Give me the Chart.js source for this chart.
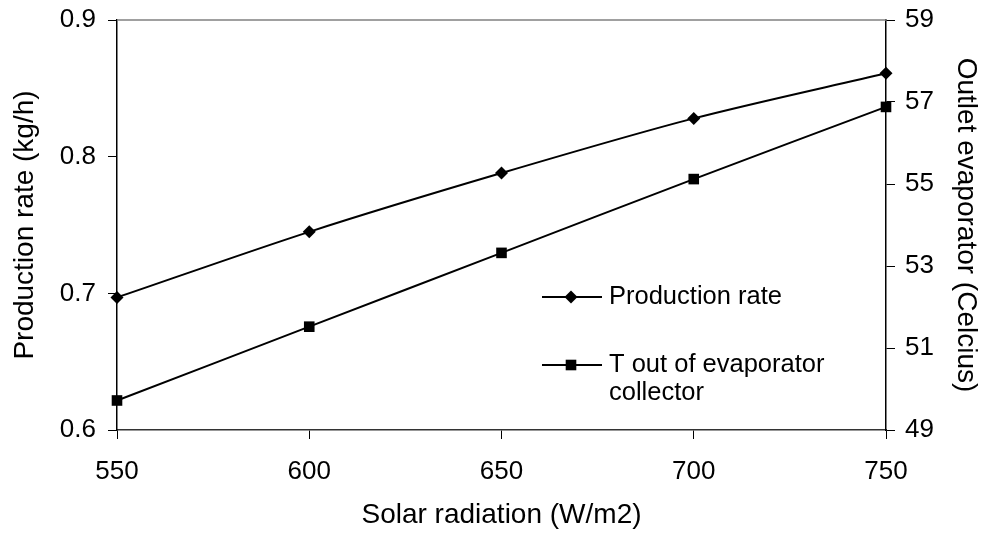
<!DOCTYPE html>
<html>
<head>
<meta charset="utf-8">
<script src="https://cdn.jsdelivr.net/npm/chart.js@4"></script>
<style>
  html, body { margin: 0; padding: 0; background: #fff; }
  #wrap { width: 984px; height: 538px; }
</style>
</head>
<body>
<div id="wrap"><canvas id="chart"></canvas></div>
<script>
var radiation = [550, 600, 650, 700, 750];
var productionRate = [0.697, 0.745, 0.788, 0.828, 0.861];
var tOutEvaporator = [49.72, 51.52, 53.32, 55.12, 56.88];
var legendLabels = ["Production rate", ["T out of evaporator", "collector"]];

var FONT = "Arial, 'Liberation Sans', sans-serif";

function pts(xs, ys) {
  return xs.map(function (x, i) { return { x: x, y: ys[i] }; });
}

// top border of the plot box + the legend inside the plot
var extras = {
  id: "extras",
  afterDraw: function (chart) {
    var c = chart.ctx, a = chart.chartArea;
    c.save();
    c.strokeStyle = "#808080";
    c.lineWidth = 1.5;
    c.beginPath();
    c.moveTo(a.left, a.top);
    c.lineTo(a.right, a.top);
    c.stroke();

    var rows = [297, 365];
    chart.data.datasets.forEach(function (ds, i) {
      var y = rows[i];
      c.strokeStyle = "#000";
      c.lineWidth = 2;
      c.beginPath();
      c.moveTo(542, y);
      c.lineTo(602, y);
      c.stroke();
      c.fillStyle = "#000";
      Chart.helpers.drawPoint(c, { pointStyle: ds.pointStyle, radius: ds.pointRadius, borderWidth: 0 }, 571, y);
      c.font = "25.5px " + FONT;
      c.textBaseline = "middle";
      c.textAlign = "left";
      var lines = [].concat(legendLabels[i]);
      lines.forEach(function (t, k) {
        c.fillText(t, 609, y + k * 28);
      });
    });
    c.restore();
  }
};

var tickFont = { size: 26, family: FONT };
var titleFont = { size: 28, family: FONT };

function fixWidth(w) {
  return function (s) {
    s.width = w;
    s.paddingTop = 0;
    s.paddingBottom = 0;
  };
}

new Chart(document.getElementById("chart"), {
  type: "line",
  data: {
    datasets: [
      {
        label: "Production rate",
        data: pts(radiation, productionRate),
        yAxisID: "y",
        borderColor: "#000",
        backgroundColor: "#000",
        borderWidth: 2,
        pointStyle: "rectRot",
        pointRadius: 6.5,
        pointBorderWidth: 0,
        tension: 0.3,
      },
      {
        label: "T out of evaporator collector",
        data: pts(radiation, tOutEvaporator),
        yAxisID: "y2",
        borderColor: "#000",
        backgroundColor: "#000",
        borderWidth: 2,
        pointStyle: "rect",
        pointRadius: 7.5,
        pointBorderWidth: 0,
        tension: 0.3,
      },
    ],
  },
  options: {
    responsive: true,
    maintainAspectRatio: false,
    animation: false,
    clip: false,
    layout: { padding: { top: 20, left: 0, right: 0, bottom: 0 } },
    plugins: { legend: { display: false }, tooltip: { enabled: false } },
    scales: {
      x: {
        type: "linear",
        min: 550,
        max: 750,
        afterFit: function (s) { s.height = 108; s.paddingLeft = 0; s.paddingRight = 0; },
        ticks: { stepSize: 50, color: "#000", padding: 17, font: tickFont },
        grid: { drawOnChartArea: false, drawTicks: true, tickLength: 9, color: "#000" },
        border: { color: "#333", width: 1.5 },
        title: { display: true, text: "Solar radiation (W/m2)", color: "#000", font: titleFont, padding: { top: 0, bottom: 6 } },
      },
      y: {
        position: "left",
        min: 0.6,
        max: 0.9,
        afterFit: fixWidth(117),
        ticks: {
          stepSize: 0.1,
          color: "#000",
          padding: 12,
          font: tickFont,
          callback: function (v) { return v.toFixed(1); },
        },
        grid: { drawOnChartArea: false, drawTicks: true, tickLength: 9, color: "#000" },
        border: { color: "#000", width: 1.5 },
        title: { display: true, text: "Production rate (kg/h)", color: "#000", font: titleFont, padding: { top: 8, bottom: 0 } },
      },
      y2: {
        position: "right",
        min: 49,
        max: 59,
        afterFit: fixWidth(98),
        ticks: { stepSize: 2, color: "#000", padding: 10, font: tickFont },
        grid: { drawOnChartArea: false, drawTicks: true, tickLength: 9, color: "#000" },
        border: { color: "#000", width: 1.5 },
        title: { display: true, text: "Outlet evaporator (Celcius)", color: "#000", font: titleFont, padding: { top: 1, bottom: 0 } },
      },
    },
  },
  plugins: [extras],
});
</script>
</body>
</html>
